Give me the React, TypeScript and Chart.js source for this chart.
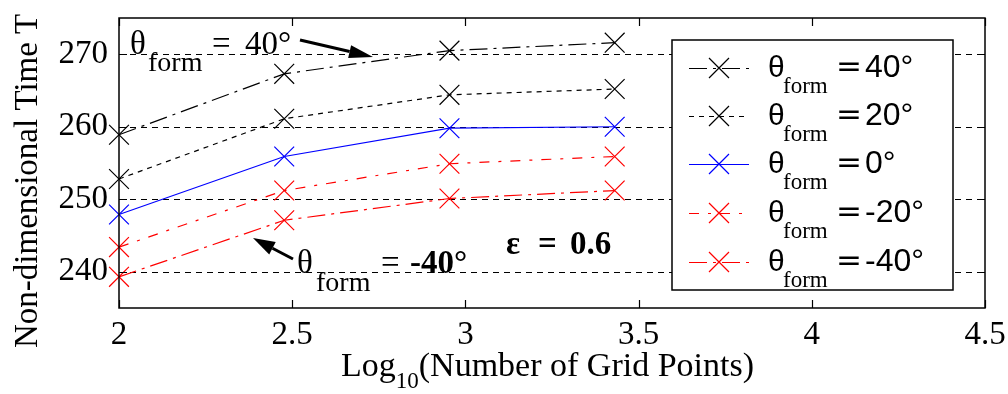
import React, { useEffect, useRef } from "react";
import { Chart, registerables } from "chart.js";

Chart.register(...registerables);

// log10 of number of grid points (100, 300, 900, 2700)
const logGridPoints = [2, 2.477, 2.954, 3.431];
const seriesAngles = ["40°", "20°", "0°", "-20°", "-40°"];
const timeTheta40 = [258.9, 267.3, 270.5, 271.6];
const timeTheta20 = [252.8, 261.1, 264.4, 265.2];
const timeTheta0 = [247.9, 255.9, 259.8, 260.0];
const timeThetaM20 = [243.4, 251.2, 254.9, 255.9];
const timeThetaM40 = [239.3, 247.1, 250.1, 251.2];
const xTickValues = [2, 2.5, 3, 3.5, 4, 4.5];
const yTickValues = [240, 250, 260, 270];

const seriesValues = [timeTheta40, timeTheta20, timeTheta0, timeThetaM20, timeThetaM40];
const seriesColors = ["#000000", "#000000", "#0000ff", "#ff0000", "#ff0000"];
const seriesDashes = [[18, 6, 3, 6], [5, 5], [], [10, 9, 3, 9], [18, 6, 3, 6]];

const SERIF = "'Liberation Serif', 'Times New Roman', serif";
const SANS = "'Liberation Sans', Arial, sans-serif";

function drawCross(ctx: CanvasRenderingContext2D, x: number, y: number, h: number, color: string) {
  ctx.save();
  ctx.strokeStyle = color;
  ctx.lineWidth = 1.2;
  ctx.setLineDash([]);
  ctx.beginPath();
  ctx.moveTo(x - h, y - h);
  ctx.lineTo(x + h, y + h);
  ctx.moveTo(x - h, y + h);
  ctx.lineTo(x + h, y - h);
  ctx.stroke();
  ctx.restore();
}

function drawArrow(ctx: CanvasRenderingContext2D, x1: number, y1: number, x2: number, y2: number, headLen: number, headW: number, lw: number) {
  const ang = Math.atan2(y2 - y1, x2 - x1);
  const bx = x2 - Math.cos(ang) * headLen;
  const by = y2 - Math.sin(ang) * headLen;
  ctx.save();
  ctx.setLineDash([]);
  ctx.strokeStyle = "#000";
  ctx.fillStyle = "#000";
  ctx.lineWidth = lw;
  ctx.beginPath();
  ctx.moveTo(x1, y1);
  ctx.lineTo(bx, by);
  ctx.stroke();
  ctx.beginPath();
  ctx.moveTo(x2, y2);
  ctx.lineTo(bx + Math.sin(ang) * headW / 2, by - Math.cos(ang) * headW / 2);
  ctx.lineTo(bx - Math.sin(ang) * headW / 2, by + Math.cos(ang) * headW / 2);
  ctx.closePath();
  ctx.fill();
  ctx.restore();
}

function text(ctx: CanvasRenderingContext2D, s: string, x: number, y: number, font: string) {
  ctx.font = font;
  ctx.fillText(s, x, y);
}

const decorPlugin = {
  id: "decor",
  beforeDatasetsDraw(chart: any) {
    const { ctx, chartArea, scales } = chart;
    const { left, right } = chartArea;
    ctx.save();
    ctx.strokeStyle = "#000";
    ctx.lineWidth = 1;
    ctx.setLineDash([6, 5]);
    yTickValues.forEach((v) => {
      const y = Math.round(scales.y.getPixelForValue(v)) + 0.5;
      ctx.beginPath();
      ctx.moveTo(left, y);
      ctx.lineTo(right, y);
      ctx.stroke();
    });
    ctx.restore();
  },
  afterDraw(chart: any) {
    const { ctx, chartArea, scales } = chart;
    const { left, right, top, bottom } = chartArea;
    ctx.save();
    // box
    ctx.strokeStyle = "#000";
    ctx.lineWidth = 1.5;
    ctx.setLineDash([]);
    ctx.strokeRect(left, top, right - left, bottom - top);
    // inward ticks
    const tl = 8;
    ctx.lineWidth = 1.2;
    ctx.beginPath();
    xTickValues.forEach((v) => {
      const x = Math.round(scales.x.getPixelForValue(v)) + 0.5;
      ctx.moveTo(x, bottom);
      ctx.lineTo(x, bottom - tl);
      ctx.moveTo(x, top);
      ctx.lineTo(x, top + tl);
    });
    yTickValues.forEach((v) => {
      const y = Math.round(scales.y.getPixelForValue(v)) + 0.5;
      ctx.moveTo(left, y);
      ctx.lineTo(left + tl, y);
      ctx.moveTo(right, y);
      ctx.lineTo(right - tl, y);
    });
    ctx.stroke();

    // axis titles
    ctx.fillStyle = "#000";
    ctx.textAlign = "left";
    ctx.textBaseline = "alphabetic";
    ctx.save();
    ctx.translate(37, 348);
    ctx.rotate(-Math.PI / 2);
    text(ctx, "Non-dimensional Time T", 0, 0, `33px ${SERIF}`);
    ctx.restore();

    let xx = 341;
    ctx.font = `34px ${SERIF}`;
    ctx.fillText("Log", xx, 376);
    xx += ctx.measureText("Log").width;
    ctx.font = `23px ${SERIF}`;
    ctx.fillText("10", xx, 388);
    xx += ctx.measureText("10").width;
    ctx.font = `34px ${SERIF}`;
    ctx.fillText("(Number of Grid Points)", xx, 376);

    // legend
    const lx = 672, ly = 40, lw = 281, lh = 250;
    ctx.fillStyle = "#fff";
    ctx.fillRect(lx, ly, lw, lh);
    ctx.strokeStyle = "#000";
    ctx.lineWidth = 1.5;
    ctx.strokeRect(lx, ly, lw, lh);
    const rows = [68, 116, 164, 213, 262];
    rows.forEach((ry, i) => {
      ctx.save();
      ctx.strokeStyle = seriesColors[i];
      ctx.lineWidth = 1.2;
      ctx.setLineDash(seriesDashes[i]);
      ctx.beginPath();
      ctx.moveTo(689, ry + 0.5);
      ctx.lineTo(749, ry + 0.5);
      ctx.stroke();
      ctx.restore();
      drawCross(ctx, 719, ry, 10, seriesColors[i]);
      ctx.fillStyle = "#000";
      text(ctx, "θ", 768, ry + 9, `30px ${SANS}`);
      text(ctx, "form", 783, ry + 25, `23px ${SERIF}`);
      text(ctx, "=", 836, ry + 8, `31px 'DejaVu Sans', sans-serif`);
      text(ctx, seriesAngles[i], 865, ry + 9, `32px ${SANS}`);
    });

    // annotations
    ctx.fillStyle = "#000";
    text(ctx, "θ", 130, 54, `33px ${SERIF}`);
    text(ctx, "form", 148, 71, `28px ${SERIF}`);
    text(ctx, "=", 212, 54, `33px ${SERIF}`);
    text(ctx, "40°", 245, 54, `33px ${SERIF}`);
    drawArrow(ctx, 300, 40, 373, 57, 24, 13, 3);

    text(ctx, "θ", 297, 273, `33px ${SERIF}`);
    text(ctx, "form", 316, 291, `28px ${SERIF}`);
    text(ctx, "=", 381, 273, `33px ${SERIF}`);
    text(ctx, "-40°", 410, 273, `bold 33px ${SERIF}`);
    drawArrow(ctx, 293, 259, 253, 238, 22, 14, 3);

    text(ctx, "ε", 506, 254, `bold 33px ${SERIF}`);
    text(ctx, "=", 538, 254, `bold 33px ${SERIF}`);
    text(ctx, "0.6", 570, 254, `bold 33px ${SERIF}`);
    ctx.restore();
  },
};

export default function App() {
  const ref = useRef<HTMLCanvasElement | null>(null);
  useEffect(() => {
    if (!ref.current) return;
    const datasets = seriesValues.map((vals, i) => ({
      label: "θform = " + seriesAngles[i],
      data: logGridPoints.map((x, j) => ({ x, y: vals[j] })),
      borderColor: seriesColors[i],
      backgroundColor: seriesColors[i],
      borderWidth: 1.2,
      borderDash: seriesDashes[i],
      pointStyle: "crossRot",
      pointRadius: 14,
      pointBorderWidth: 1.2,
      pointBorderColor: seriesColors[i],
      tension: 0,
      fill: false,
      clip: false,
    }));
    const chart = new Chart(ref.current, {
      type: "line",
      data: { datasets: datasets as any },
      options: {
        responsive: false,
        animation: false,
        layout: { padding: { top: 18, right: 23, left: 0, bottom: 0 } },
        plugins: { legend: { display: false }, tooltip: { enabled: false } },
        scales: {
          x: {
            type: "linear",
            min: 2,
            max: 4.5,
            afterBuildTicks: (s: any) => {
              s.ticks = xTickValues.map((v) => ({ value: v }));
            },
            afterFit: (s: any) => {
              s.height = 86;
              s.paddingLeft = 0;
              s.paddingRight = 0;
            },
            grid: { display: false, drawTicks: false },
            border: { display: false },
            ticks: {
              color: "#000",
              padding: 8,
              maxRotation: 0,
              font: { family: SERIF, size: 33 },
              callback: (v: any) => String(v),
            },
          },
          y: {
            type: "linear",
            min: 235,
            max: 275,
            afterBuildTicks: (s: any) => {
              s.ticks = yTickValues.map((v) => ({ value: v }));
            },
            afterFit: (s: any) => {
              s.width = 119;
              s.paddingTop = 0;
              s.paddingBottom = 0;
            },
            grid: { display: false, drawTicks: false },
            border: { display: false },
            ticks: {
              color: "#000",
              padding: 11,
              font: { family: SERIF, size: 33 },
              callback: (v: any) => String(v),
            },
          },
        },
      },
      plugins: [decorPlugin],
    });
    return () => chart.destroy();
  }, []);
  return (
    <div style={{ position: "fixed", left: 0, top: 0, width: 1008, height: 394, background: "#fff" }}>
      <canvas ref={ref} width={1008} height={394} style={{ display: "block" }} />
    </div>
  );
}
